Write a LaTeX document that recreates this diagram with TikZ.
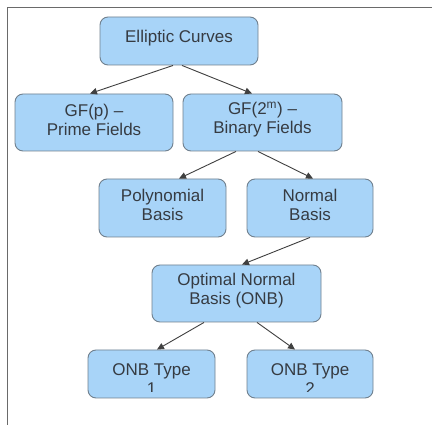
\documentclass[tikz,border=0pt]{standalone}
\usepackage{fontspec}
\setmainfont{Liberation Sans}
\usetikzlibrary{arrows.meta}
\definecolor{boxfill}{HTML}{A8D4F8}
\definecolor{boxline}{HTML}{70808E}
\definecolor{txt}{HTML}{363B42}
\definecolor{edge}{HTML}{404040}
\definecolor{frameline}{HTML}{6A6A6A}
\tikzset{
  labeltext/.style={text=txt, align=center, font=\fontsize{17}{19}\selectfont, inner sep=0pt},
  box/.style={draw=boxline, fill=boxfill, line width=0.9pt, rounded corners=8pt, inner sep=0pt},
  % label set slightly above the box centre
  boxtext/.style={path picture={
      \node[labeltext] at ([yshift=3pt]path picture bounding box.center) {#1};}},
  % label whose last line runs past the lower text margin
  clipped/.style 2 args={path picture={
      \clip (path picture bounding box.north west) rectangle ([yshift=6pt]path picture bounding box.south east);
      \node[labeltext] at ([yshift=-5pt]path picture bounding box.center) {#1\\#2};}},
  link/.style={draw=edge, line width=0.9pt, -{Triangle[length=7pt,width=6.5pt]}},
}
\begin{document}
\begin{tikzpicture}[x=1pt, y=-1pt]
  \useasboundingbox (0,0) rectangle (432,425);
  \fill[white] (0,0) rectangle (432,425);
  % outer frame (top and left edges)
  \draw[frameline, line width=1.5pt] (7.5,425) -- (7.5,7.5) -- (432,7.5);

  % boxes
  \node[box, minimum width=158pt, minimum height=48pt, boxtext={Elliptic Curves}] (ec) at (179,41) {};
  \node[box, minimum width=158pt, minimum height=57pt, boxtext={GF(p) –\\Prime Fields}] (gfp) at (94,122.5) {};
  \node[box, minimum width=159pt, minimum height=57pt, boxtext={GF(2\textsuperscript{m}) –\\Binary Fields}] (gf2) at (262.5,122.5) {};
  \node[box, minimum width=127pt, minimum height=58pt, boxtext={Polynomial\\Basis}] (poly) at (162.5,208) {};
  \node[box, minimum width=126pt, minimum height=58pt, boxtext={Normal\\Basis}] (norm) at (310,208) {};
  \node[box, minimum width=169pt, minimum height=57pt, boxtext={Optimal Normal\\Basis (ONB)}] (onb) at (236.5,293.5) {};
  \node[box, minimum width=127pt, minimum height=48pt, clipped={ONB Type}{1}] (t1) at (151.5,374) {};
  \node[box, minimum width=126pt, minimum height=48pt, clipped={ONB Type}{2}] (t2) at (310,374) {};

  % connectors
  \draw[link] ([xshift=-6pt]ec.south) -- ([xshift=-4pt]gfp.north);
  \draw[link] ([xshift=3pt]ec.south) -- ([xshift=-10.5pt]gf2.north);
  \draw[link] ([xshift=-26.5pt]gf2.south) -- ([xshift=16.5pt]poly.north);
  \draw[link] ([xshift=-4.5pt]gf2.south) -- ([xshift=3pt]norm.north);
  \draw[link] (norm.south) -- ([xshift=5.5pt]onb.north);
  \draw[link] ([xshift=-32.5pt]onb.south) -- ([xshift=5.5pt]t1.north);
  \draw[link] ([xshift=20.5pt]onb.south) -- ([xshift=-15pt]t2.north);
\end{tikzpicture}
\end{document}
